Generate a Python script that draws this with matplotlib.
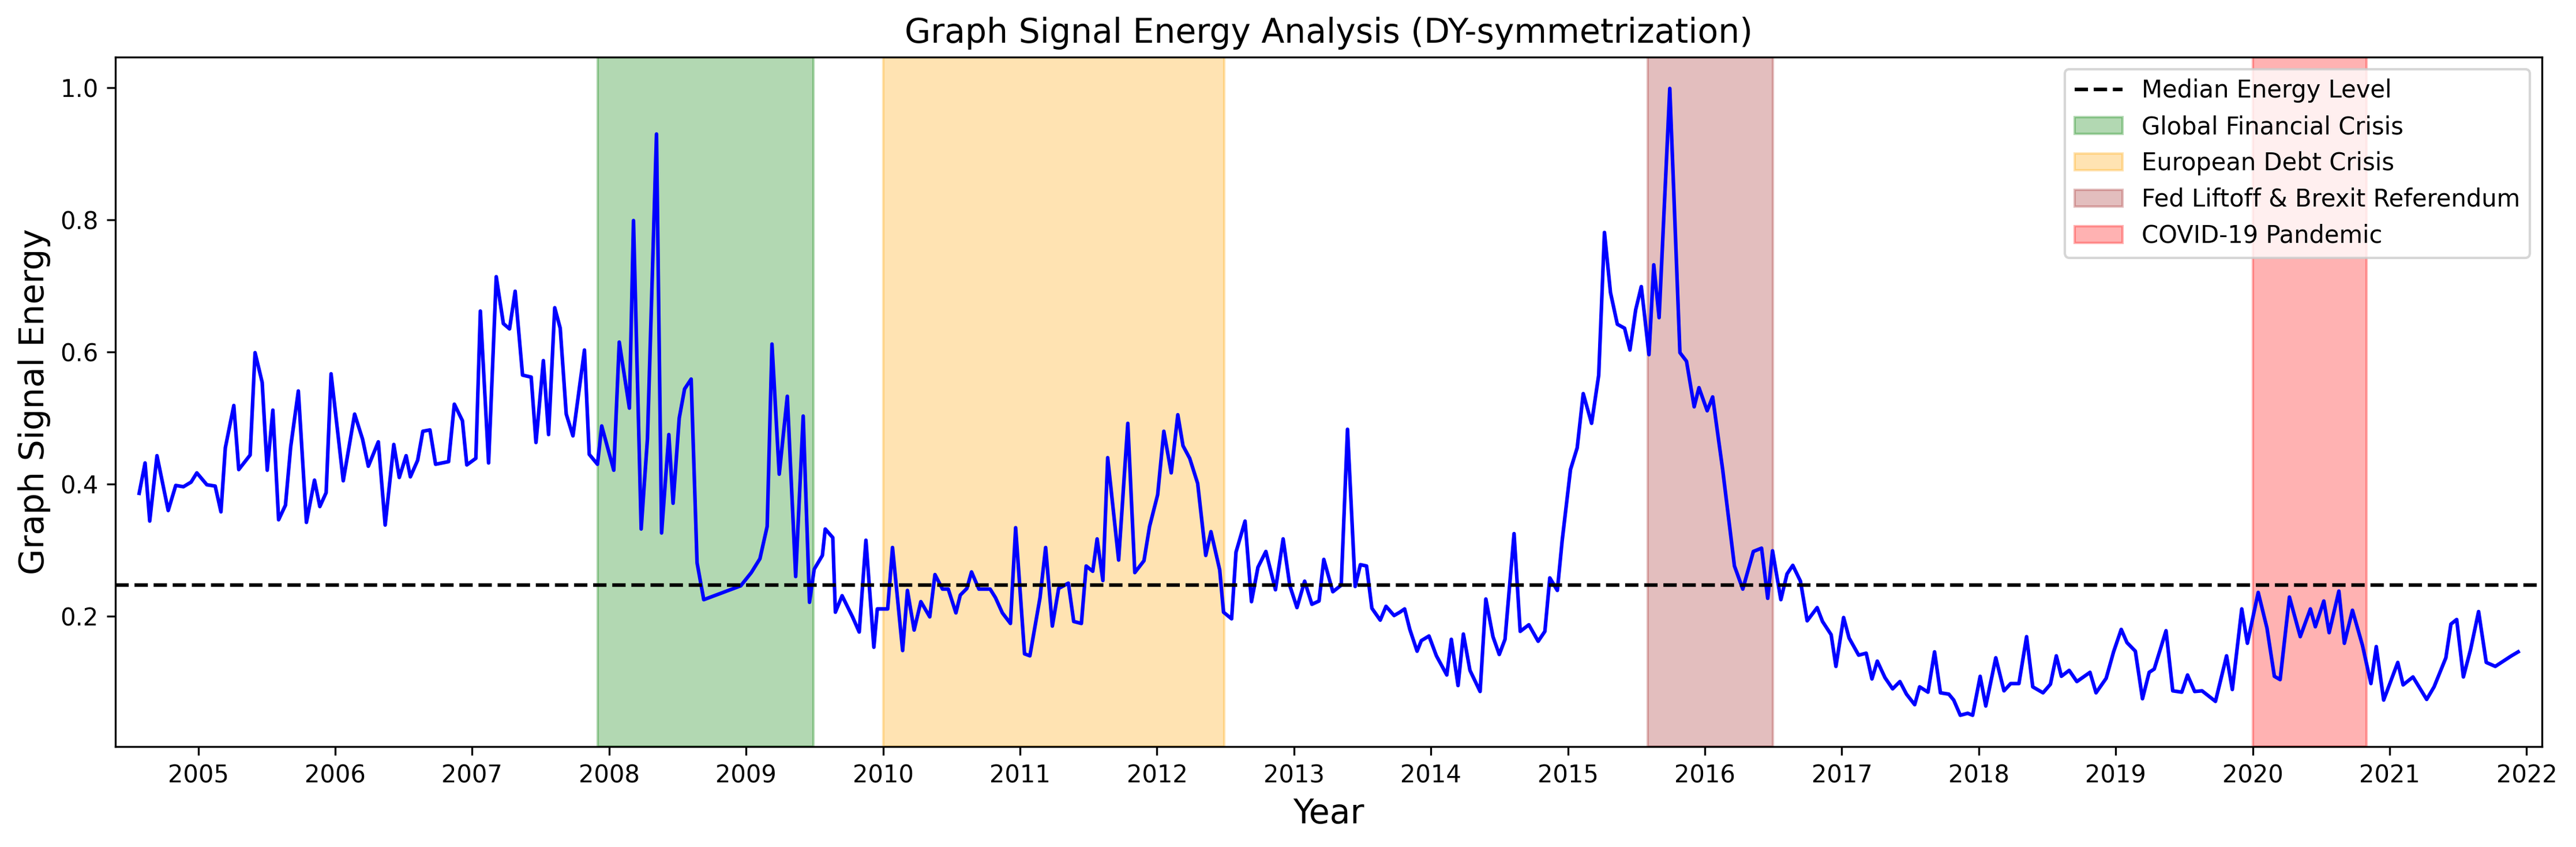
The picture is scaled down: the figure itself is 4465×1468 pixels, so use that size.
import matplotlib
matplotlib.use("Agg")
import matplotlib.pyplot as plt
import numpy as np

# fractional-year dates of each observation
years = [
    2004.569, 2004.612, 2004.646, 2004.699, 2004.781, 2004.836, 2004.892, 2004.948, 2004.990,
    2005.063, 2005.124, 2005.166, 2005.198, 2005.260, 2005.296, 2005.379, 2005.415, 2005.467,
    2005.504, 2005.545, 2005.587, 2005.637, 2005.675, 2005.731, 2005.790, 2005.849, 2005.888,
    2005.934, 2005.970, 2006.059, 2006.142, 2006.200, 2006.242, 2006.315, 2006.365, 2006.428,
    2006.468, 2006.518, 2006.549, 2006.602, 2006.640, 2006.692,
    2006.733, 2006.828, 2006.870, 2006.929, 2006.961, 2007.027, 2007.060, 2007.120, 2007.176,
    2007.228, 2007.273, 2007.314, 2007.368, 2007.431, 2007.466, 2007.520, 2007.558, 2007.603,
    2007.643, 2007.687, 2007.736, 2007.820, 2007.855, 2007.915, 2007.946, 2008.034, 2008.074,
    2008.148, 2008.178, 2008.234, 2008.280, 2008.346, 2008.383, 2008.436, 2008.467, 2008.512,
    2008.551, 2008.599, 2008.642, 2008.691,
    2008.961, 2009.038, 2009.101, 2009.154, 2009.189, 2009.242, 2009.301, 2009.362, 2009.417,
    2009.463, 2009.497, 2009.557, 2009.578, 2009.633, 2009.652, 2009.701, 2009.777, 2009.826,
    2009.875, 2009.933, 2009.958, 2010.034, 2010.069, 2010.143, 2010.178, 2010.227, 2010.276,
    2010.341, 2010.379, 2010.434, 2010.476, 2010.532, 2010.564, 2010.612, 2010.646, 2010.700,
    2010.782, 2010.821, 2010.871, 2010.930, 2010.968,
    2011.033, 2011.072, 2011.146, 2011.187, 2011.236, 2011.282, 2011.353, 2011.392, 2011.448,
    2011.483, 2011.531, 2011.563, 2011.605, 2011.640, 2011.720, 2011.787, 2011.838, 2011.905,
    2011.946, 2012.005, 2012.050, 2012.104, 2012.152, 2012.190, 2012.239, 2012.297, 2012.356,
    2012.394, 2012.458, 2012.486, 2012.545, 2012.577, 2012.643, 2012.690, 2012.737, 2012.795,
    2012.865, 2012.921, 2012.970, 2013.022, 2013.078, 2013.131,
    2013.183, 2013.218, 2013.284, 2013.345, 2013.391, 2013.447, 2013.485, 2013.530, 2013.569,
    2013.630, 2013.672, 2013.731, 2013.773, 2013.808, 2013.846, 2013.899, 2013.930, 2013.986,
    2014.040, 2014.116, 2014.149, 2014.198, 2014.237, 2014.285, 2014.359, 2014.401, 2014.453,
    2014.499, 2014.541, 2014.607, 2014.652, 2014.715, 2014.783, 2014.832, 2014.868, 2014.923,
    2014.958, 2015.019, 2015.068, 2015.112, 2015.173, 2015.225, 2015.267,
    2015.311, 2015.361, 2015.414, 2015.453, 2015.495, 2015.536, 2015.592, 2015.627, 2015.666,
    2015.744, 2015.818, 2015.866, 2015.922, 2015.957, 2016.017, 2016.057, 2016.130, 2016.216,
    2016.277, 2016.354, 2016.414, 2016.459, 2016.494, 2016.555, 2016.600, 2016.642, 2016.698,
    2016.747, 2016.820, 2016.859, 2016.922, 2016.957, 2017.013, 2017.053, 2017.123, 2017.178,
    2017.220, 2017.259, 2017.315, 2017.371, 2017.424,
    2017.472, 2017.532, 2017.568, 2017.629, 2017.677, 2017.720, 2017.781, 2017.817, 2017.865,
    2017.919, 2017.955, 2018.010, 2018.051, 2018.124, 2018.184, 2018.233, 2018.293, 2018.349,
    2018.394, 2018.469, 2018.523, 2018.566,
    2018.603, 2018.660, 2018.716, 2018.812, 2018.856, 2018.930, 2018.984, 2019.040, 2019.082,
    2019.143, 2019.195, 2019.244, 2019.281, 2019.367, 2019.416, 2019.482, 2019.524, 2019.576,
    2019.630, 2019.728, 2019.809, 2019.851, 2019.920, 2019.961, 2020.040, 2020.104, 2020.158,
    2020.200, 2020.268, 2020.347, 2020.421, 2020.457, 2020.519, 2020.558, 2020.629, 2020.669,
    2020.728, 2020.801, 2020.863, 2020.902, 2020.956, 2021.059, 2021.098, 2021.170, 2021.270,
    2021.324, 2021.410, 2021.447, 2021.489, 2021.538, 2021.590, 2021.649, 2021.705, 2021.771,
    2021.889, 2021.938,
]

energy = [
    0.386, 0.432, 0.344, 0.443, 0.360, 0.398, 0.396, 0.403, 0.417,
    0.399, 0.397, 0.358, 0.455, 0.519, 0.422, 0.444, 0.599, 0.554,
    0.421, 0.512, 0.346, 0.368, 0.456, 0.541, 0.342, 0.406, 0.366,
    0.387, 0.567, 0.405, 0.506, 0.468, 0.427, 0.464, 0.338, 0.460,
    0.410, 0.443, 0.411, 0.436, 0.480, 0.482,
    0.430, 0.434, 0.521, 0.496, 0.429, 0.439, 0.662, 0.432, 0.714,
    0.643, 0.635, 0.692, 0.565, 0.562, 0.463, 0.587, 0.475, 0.667,
    0.636, 0.506, 0.473, 0.603, 0.445, 0.430, 0.488, 0.421, 0.615,
    0.515, 0.799, 0.332, 0.469, 0.930, 0.326, 0.475, 0.371, 0.500,
    0.544, 0.559, 0.281, 0.225,
    0.246, 0.266, 0.287, 0.336, 0.612, 0.415, 0.533, 0.260, 0.503,
    0.221, 0.271, 0.292, 0.332, 0.319, 0.206, 0.231, 0.199, 0.176,
    0.315, 0.153, 0.211, 0.211, 0.304, 0.148, 0.239, 0.179, 0.222,
    0.199, 0.263, 0.241, 0.241, 0.205, 0.232, 0.242, 0.267, 0.241,
    0.241, 0.228, 0.205, 0.189, 0.334,
    0.143, 0.140, 0.228, 0.304, 0.185, 0.242, 0.250, 0.192, 0.189,
    0.276, 0.268, 0.317, 0.254, 0.440, 0.285, 0.492, 0.266, 0.284,
    0.336, 0.384, 0.480, 0.417, 0.505, 0.458, 0.439, 0.401, 0.292,
    0.328, 0.270, 0.206, 0.196, 0.297, 0.344, 0.222, 0.274, 0.298,
    0.240, 0.317, 0.246, 0.213, 0.253, 0.218,
    0.223, 0.286, 0.237, 0.247, 0.483, 0.245, 0.278, 0.276, 0.212,
    0.194, 0.215, 0.201, 0.206, 0.211, 0.180, 0.147, 0.163, 0.170,
    0.140, 0.111, 0.165, 0.095, 0.173, 0.118, 0.086, 0.226, 0.169,
    0.142, 0.165, 0.325, 0.177, 0.187, 0.162, 0.177, 0.258, 0.239,
    0.314, 0.422, 0.455, 0.537, 0.492, 0.565, 0.781,
    0.690, 0.642, 0.636, 0.603, 0.664, 0.699, 0.596, 0.732, 0.652,
    0.999, 0.599, 0.586, 0.517, 0.546, 0.511, 0.532, 0.422, 0.276,
    0.241, 0.298, 0.303, 0.227, 0.299, 0.225, 0.264, 0.277, 0.253,
    0.193, 0.213, 0.192, 0.172, 0.124, 0.198, 0.167, 0.141, 0.144,
    0.105, 0.132, 0.107, 0.090, 0.101,
    0.082, 0.066, 0.093, 0.085, 0.146, 0.084, 0.082, 0.073, 0.050,
    0.053, 0.050, 0.109, 0.064, 0.137, 0.087, 0.098, 0.098, 0.169,
    0.093, 0.084, 0.097, 0.140,
    0.109, 0.118, 0.101, 0.115, 0.084, 0.106, 0.146, 0.180, 0.160,
    0.147, 0.075, 0.115, 0.120, 0.178, 0.087, 0.085, 0.111, 0.086,
    0.087, 0.071, 0.140, 0.089, 0.211, 0.159, 0.236, 0.182, 0.109,
    0.104, 0.229, 0.169, 0.211, 0.184, 0.223, 0.175, 0.238, 0.159,
    0.209, 0.156, 0.098, 0.154, 0.073, 0.130, 0.096, 0.108, 0.074,
    0.093, 0.137, 0.188, 0.195, 0.108, 0.149, 0.207, 0.130, 0.124,
    0.140, 0.146,
]

median_energy = 0.247

crisis_labels = ["Global Financial Crisis", "European Debt Crisis",
                 "Fed Liftoff & Brexit Referendum", "COVID-19 Pandemic"]
crisis_start = [2007.915, 2010.000, 2015.581, 2020.000]
crisis_end = [2009.493, 2012.493, 2016.495, 2020.831]
crisis_colors = ["green", "orange", "brown", "red"]

tick_years = list(range(2005, 2023))

fig = plt.figure(figsize=(4465 / 300, 1468 / 300), dpi=300)
ax = fig.add_axes([200 / 4465, 1 - 1294 / 1468, (4406 - 200) / 4465, (1294 - 99) / 1468])

ax.plot(years, energy, color="blue", linewidth=1.5)
ax.axhline(median_energy, color="black", linestyle="--", linewidth=1.5,
           label="Median Energy Level")
for lab, s, e, c in zip(crisis_labels, crisis_start, crisis_end, crisis_colors):
    ax.axvspan(s, e, color=c, alpha=0.3, label=lab)

ax.margins(x=0.01)
ax.set_xticks(tick_years)
ax.set_xticklabels([str(y) for y in tick_years])
ax.set_title("Graph Signal Energy Analysis (DY-symmetrization)", fontsize=14)
ax.set_xlabel("Year", fontsize=14)
ax.set_ylabel("Graph Signal Energy", fontsize=14)
ax.legend(loc="upper right", fontsize=10)

fig.savefig("out.png", dpi=300)
